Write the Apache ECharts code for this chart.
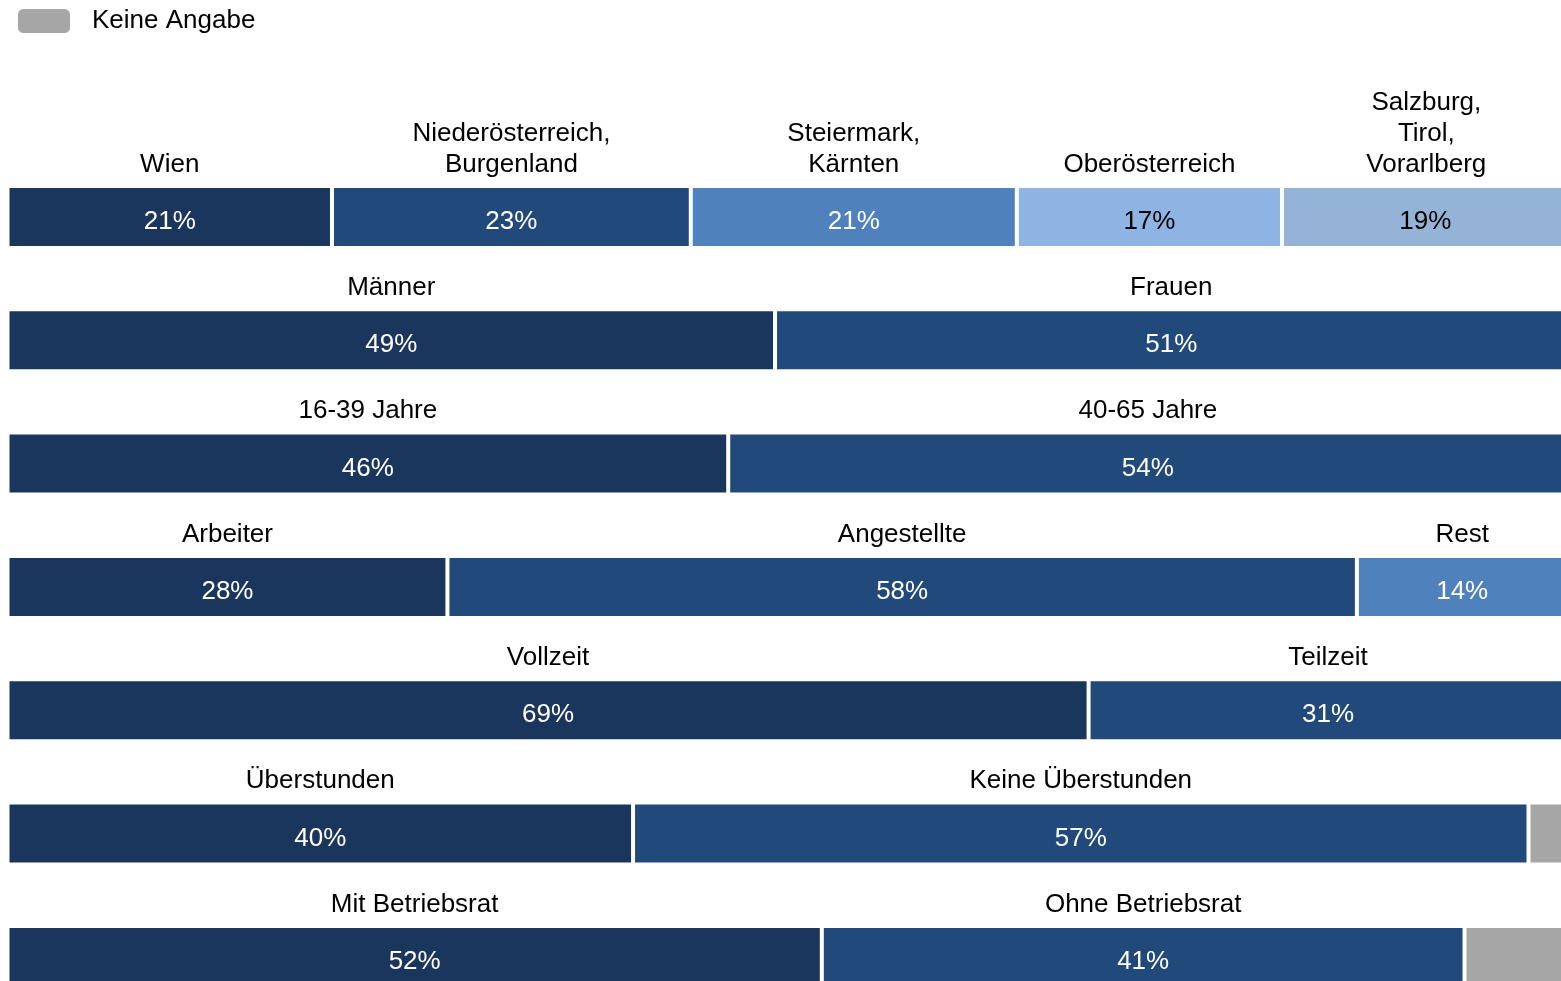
<!DOCTYPE html>
<html>
<head>
<meta charset="utf-8">
<script src="https://cdn.jsdelivr.net/npm/echarts@6/dist/echarts.min.js"></script>
<style>
  html, body { margin: 0; padding: 0; background: #fff; }
  #chart { width: 1561px; height: 981px; }
</style>
</head>
<body>
<div id="chart"></div>
<script>
// Zeilen (Kategorien), von oben nach unten
const rowKeys = ['Bundesland', 'Geschlecht', 'Alter', 'Beruf', 'Arbeitszeit', 'Überstunden', 'Betriebsrat'];

const segmentLabels = [
    ['Wien', 'Niederösterreich,\nBurgenland', 'Steiermark,\nKärnten', 'Oberösterreich', 'Salzburg,\nTirol,\nVorarlberg'],
    ['Männer', 'Frauen'],
    ['16-39 Jahre', '40-65 Jahre'],
    ['Arbeiter', 'Angestellte', 'Rest'],
    ['Vollzeit', 'Teilzeit'],
    ['Überstunden', 'Keine Überstunden'],
    ['Mit Betriebsrat', 'Ohne Betriebsrat']
];

// Anteile in %
const segmentValues = [
    [20.8, 23.0, 20.9, 17.0, 18.5],
    [49.2, 50.8],
    [46.2, 53.8],
    [28.2, 58.3, 13.5],
    [69.3, 30.7],
    [40.1, 57.4],
    [52.2, 41.2]
];

const keineAngabe = [null, null, null, null, null, 2.5, 6.6];

const segColors = ['#1b365d', '#214a7b', '#4f81bd', '#8db4e2', '#95b3d7'];
const labelColors = ['#fff', '#fff', '#fff', '#000', '#000'];
const greyColor = '#a6a6a6';
const FONT = 'Liberation Sans, Arial, sans-serif';

const chart = echarts.init(document.getElementById('chart'));

const maxSegs = Math.max(...segmentValues.map(r => r.length));
const series = [];

for (let k = 0; k < maxSegs; k++) {
    series.push({
        name: 'seg' + k,
        type: 'bar',
        stack: 'total',
        barWidth: 62,
        data: segmentValues.map(r => (r[k] != null ? r[k] : '-')),
        itemStyle: { color: segColors[k], borderColor: '#fff', borderWidth: 2 },
        label: {
            show: true,
            position: 'inside',
            offset: [0, 5],
            fontFamily: FONT,
            fontSize: 26,
            color: labelColors[k],
            formatter: p => Math.round(p.value) + '%'
        }
    });
}

series.push({
    name: 'Keine Angabe',
    type: 'bar',
    stack: 'total',
    barWidth: 62,
    data: keineAngabe.map(v => (v != null ? v : '-')),
    itemStyle: { color: greyColor, borderColor: '#fff', borderWidth: 2 }
});

// Beschriftungen über den Segmenten (Mitte jedes Segments)
const nameData = [];
segmentValues.forEach((row, i) => {
    let acc = 0;
    row.forEach((v, k) => {
        nameData.push({ value: [acc + v / 2, rowKeys[i]], name: segmentLabels[i][k] });
        acc += v;
    });
});

series.push({
    name: 'names',
    type: 'scatter',
    symbolSize: 0,
    z: 5,
    silent: true,
    data: nameData,
    itemStyle: { opacity: 1 },
    label: {
        show: true,
        position: 'top',
        distance: 37,
        fontFamily: FONT,
        fontSize: 26,
        lineHeight: 31,
        color: '#000',
        opacity: 1,
        textBorderWidth: 0,
        align: 'center',
        formatter: p => p.name
    }
});

chart.setOption({
    animation: false,
    legend: {
        data: ['Keine Angabe'],
        left: 11,
        top: 2,
        itemWidth: 54,
        itemHeight: 26,
        icon: 'roundRect',
        textStyle: { fontFamily: FONT, fontSize: 26, color: '#000', padding: [0, 0, 0, 16] }
    },
    grid: { left: 7.5, top: 155.3, width: 1560, height: 863.3, outerBoundsMode: 'none' },
    xAxis: { type: 'value', min: 0, max: 100, show: false },
    yAxis: { type: 'category', data: rowKeys, inverse: true, show: false },
    series: series
});
</script>
</body>
</html>
